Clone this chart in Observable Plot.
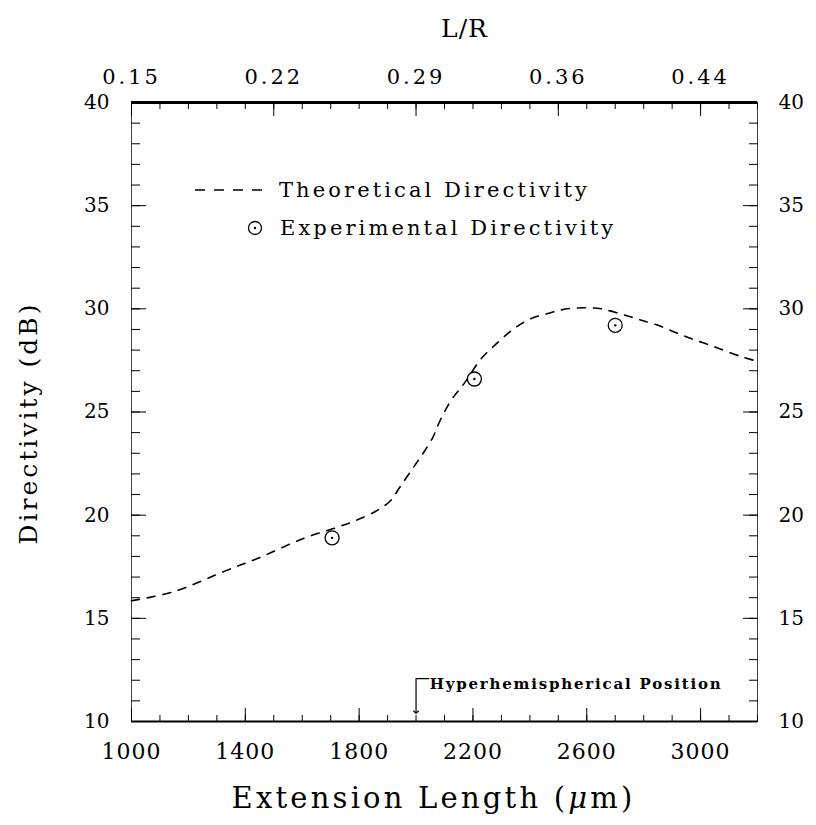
<!DOCTYPE html>
<html><head><meta charset="utf-8">
<script src="https://cdn.jsdelivr.net/npm/d3@7"></script>
<script src="https://cdn.jsdelivr.net/npm/@observablehq/plot@0.6"></script>
<style>
body{margin:0;background:#fff}
#chart{width:816px;height:825px}
.lbl-bottom text{letter-spacing:1px}
.lbl-top text{letter-spacing:3px}
.xtitle text{letter-spacing:3.2px}
.ytitle text{letter-spacing:3px}
.toptitle text{letter-spacing:1px}
.hyper text{letter-spacing:1.8px}
</style>
</head><body><div id="chart"></div>
<script>
// ---- data ----
const theoryLength = [1000, 1150, 1330, 1460, 1600, 1720, 1790, 1860, 1910, 1945, 1990, 2025, 2060, 2085, 2125, 2170, 2230, 2290, 2340, 2400, 2470, 2530, 2600, 2650, 2720, 2780, 2850, 2940, 3040, 3140, 3200];
const theoryDir    = [15.85, 16.3, 17.3, 18.0, 18.85, 19.4, 19.75, 20.2, 20.7, 21.4, 22.3, 23.0, 23.8, 24.6, 25.6, 26.4, 27.6, 28.4, 29.0, 29.5, 29.8, 30.0, 30.05, 30.0, 29.75, 29.5, 29.2, 28.7, 28.2, 27.7, 27.45];
const expLength = [1705, 2205, 2700];
const expDir    = [18.9, 26.6, 29.2];
const xTicks = [1000, 1400, 1800, 2200, 2600, 3000];
const yTicks = [10, 15, 20, 25, 30, 35, 40];
const lrTickPos = [1000, 1500, 2000, 2500, 3000];
const lrTickLabels = ["0.15", "0.22", "0.29", "0.36", "0.44"];
const legendLabels = ["Theoretical Directivity", "Experimental Directivity"];
const hyperPos = 2000;
const hyperLabel = "Hyperhemispherical Position";
const xTitle = "Extension Length (μm)";
const yTitle = "Directivity (dB)";
const topTitle = "L/R";

const theory = theoryLength.map((x, i) => ({x, y: theoryDir[i]}));
const exper = expLength.map((x, i) => ({x, y: expDir[i]}));
const lrMap = new Map(lrTickPos.map((p, i) => [p, lrTickLabels[i]]));
const xMinor = d3.range(1000, 3201, 100);
const yMinor = d3.range(10, 41, 1);
const FONT = "DejaVu Serif";

// legend sample drawn relative to the frame (layout only)
function legendMark(index, scales, values, dims) {
  const g = d3.create("svg:g").attr("text-anchor", "start");
  const x0 = dims.marginLeft + 64, y0 = dims.marginTop + 88;
  g.append("line").attr("x1", x0).attr("x2", x0 + 68).attr("y1", y0).attr("y2", y0)
    .attr("stroke", "black").attr("stroke-width", 1.6).attr("stroke-dasharray", "10,9");
  g.append("circle").attr("cx", x0 + 60).attr("cy", y0 + 38).attr("r", 6.5)
    .attr("fill", "none").attr("stroke", "black").attr("stroke-width", 1.3);
  g.append("circle").attr("cx", x0 + 60).attr("cy", y0 + 38).attr("r", 1.2).attr("fill", "black");
  legendLabels.forEach((lab, i) => {
    g.append("text").attr("x", x0 + 84 + (i ? 1 : 0)).attr("y", y0 + 38 * i).attr("dy", "0.35em")
      .attr("font-size", 21).attr("font-family", FONT).attr("letter-spacing", "3.1px")
      .attr("text-anchor", "start").text(lab);
  });
  return g.node();
}

const chart = Plot.plot({
  width: 816, height: 825,
  marginLeft: 131, marginRight: 59, marginTop: 102, marginBottom: 104,
  x: {domain: [1000, 3200]},
  y: {domain: [10, 40]},
  style: {fontFamily: FONT, background: "white", color: "black", overflow: "visible"},
  marks: [
    // frame
    Plot.ruleX([1000, 3200], {stroke: "#444", strokeWidth: 1}),
    Plot.ruleY([40], {strokeWidth: 3}),
    Plot.ruleY([10], {strokeWidth: 2}),
    // bottom ticks (inward)
    Plot.axisX(xMinor, {anchor: "bottom", tickSize: -6, tickFormat: () => "", label: null}),
    Plot.axisX(xTicks, {anchor: "bottom", tickSize: -13, tickPadding: 35, fontSize: 22, tickFormat: d => String(d), label: null, className: "lbl-bottom"}),
    // top ticks (inward)
    Plot.axisX(xMinor, {anchor: "top", tickSize: -6, tickFormat: () => "", label: null}),
    Plot.axisX(lrTickPos, {anchor: "top", tickSize: -13, tickPadding: 32, fontSize: 21, tickFormat: d => lrMap.get(d), label: null, className: "lbl-top"}),
    // left / right ticks
    Plot.axisY(yMinor, {anchor: "left", tickSize: -9, tickFormat: () => "", label: null}),
    Plot.axisY(yTicks, {anchor: "left", tickSize: -15, tickPadding: 37, fontSize: 20, tickFormat: d => String(d), label: null}),
    Plot.axisY(yMinor, {anchor: "right", tickSize: -9, tickFormat: () => "", label: null}),
    Plot.axisY(yTicks, {anchor: "right", tickSize: -15, tickPadding: 36, fontSize: 20, tickFormat: d => String(d), label: null}),
    // titles
    Plot.text([xTitle], {frameAnchor: "bottom", lineAnchor: "middle", dx: -11, dy: 77, fontSize: 29, text: d => d, className: "xtitle"}),
    Plot.text([yTitle], {frameAnchor: "left", dx: -103, dy: 11, rotate: -90, textAnchor: "middle", fontSize: 25, text: d => d, className: "ytitle"}),
    Plot.text([topTitle], {frameAnchor: "top", lineAnchor: "middle", dx: 20, dy: -74, fontSize: 25, text: d => d, className: "toptitle"}),
    // data
    Plot.line(theory, {x: "x", y: "y", curve: "catmull-rom", stroke: "black", strokeWidth: 1.6, strokeDasharray: "8,8"}),
    Plot.dot(exper, {x: "x", y: "y", r: 7, stroke: "black", strokeWidth: 1.3, fill: "none"}),
    Plot.dot(exper, {x: "x", y: "y", r: 1.2, fill: "black"}),
    // hyperhemispherical annotation
    Plot.line([{x: hyperPos + 45, y: 12.08}, {x: hyperPos, y: 12.08}, {x: hyperPos, y: 10.45}],
      {x: "x", y: "y", stroke: "black", strokeWidth: 1.2, markerEnd: "arrow"}),
    Plot.text([hyperLabel], {x: hyperPos + 48, y: 11.82, text: d => d, textAnchor: "start", fontSize: 15, fontWeight: "bold", className: "hyper"}),
    // legend
    legendMark
  ]
});

// italic mu in the x title
d3.select(chart).selectAll(".xtitle text").each(function() {
  const t = d3.select(this);
  t.text(null);
  t.append("tspan").text("Extension Length (");
  t.append("tspan").attr("font-style", "italic").text("μ");
  t.append("tspan").text("m)");
});

document.getElementById("chart").appendChild(chart);
</script>
</body></html>
